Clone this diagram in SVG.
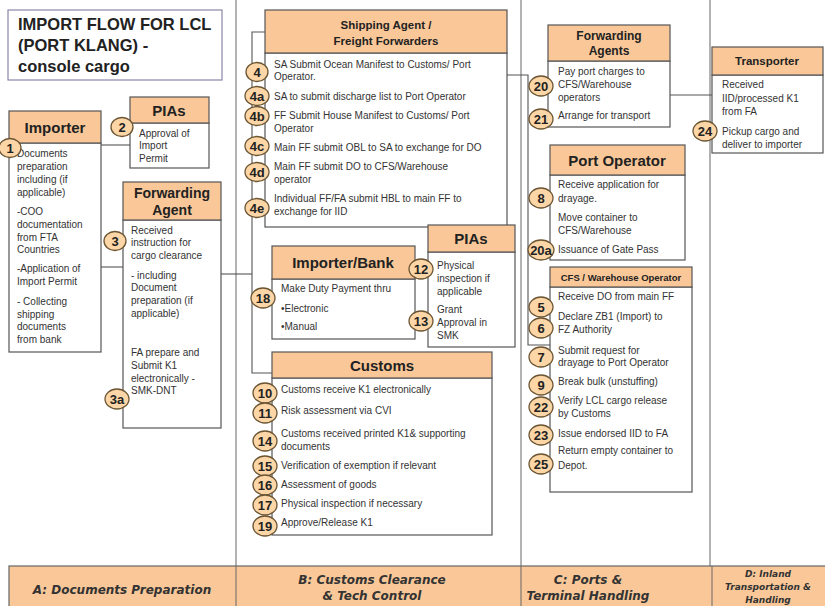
<svg xmlns="http://www.w3.org/2000/svg" width="825" height="606" viewBox="0 0 825 606">
<style>
.box{fill:#fff;stroke:#555;stroke-width:1.2}
.hdr{fill:#FAC898;stroke:#555;stroke-width:1.2}
.ht{font-family:"Liberation Sans",Arial,sans-serif;font-weight:bold;fill:#222;text-anchor:middle}
.t{font-family:"Liberation Sans",Arial,sans-serif;font-size:10px;fill:#333}
.bd{fill:#FCD6A6;stroke:#6b5533;stroke-width:1.3}
.bt{font-family:"Liberation Sans",Arial,sans-serif;font-size:13px;font-weight:bold;fill:#222;text-anchor:middle}
.ln{stroke:#555;stroke-width:1.1;fill:none}
.dv{stroke:#666;stroke-width:1;fill:none}
.ft{font-family:"DejaVu Sans",Verdana,sans-serif;font-weight:bold;font-style:italic;fill:#333;text-anchor:middle}
</style>
<rect width="825" height="606" fill="#fff"/>

<g id="dividers">
<line class="dv" x1="236" y1="0" x2="236" y2="566"/>
<line class="dv" x1="521" y1="0" x2="521" y2="566"/>
<line class="dv" x1="710" y1="0" x2="710" y2="566"/>
</g>

<g id="connectors">
<line class="ln" x1="101" y1="145" x2="130" y2="145"/>
<line class="ln" x1="101" y1="267" x2="123" y2="267"/>
<line class="ln" x1="221" y1="274" x2="252" y2="274"/>
<polyline class="ln" points="265,32 252,32 252,373 272,373"/>
<polyline class="ln" points="507,75 528,75 528,345 550,345"/>
<line class="ln" x1="670" y1="95" x2="712" y2="95"/>
</g>

<g id="title">
<rect x="8" y="10" width="214" height="70" fill="#fff" stroke="#8a86a8" stroke-width="1.2"/>
<text font-family="Liberation Sans,Arial,sans-serif" font-size="16.5" font-weight="bold" fill="#222">
<tspan x="18" y="30">IMPORT FLOW FOR LCL</tspan>
<tspan x="18" y="51">(PORT KLANG)  -</tspan>
<tspan x="18" y="72">console cargo</tspan>
</text>
</g>

<g id="importer">
<rect class="box" x="9" y="143" width="92" height="209"/>
<rect class="hdr" x="9" y="111" width="92" height="32"/>
<text class="ht" x="55" y="133" font-size="15">Importer</text>
<text class="t">
<tspan x="17" y="157">Documents</tspan>
<tspan x="17" y="170">preparation</tspan>
<tspan x="17" y="183">including (if</tspan>
<tspan x="17" y="196">applicable)</tspan>
<tspan x="17" y="215">-COO</tspan>
<tspan x="17" y="228">documentation</tspan>
<tspan x="17" y="241">from FTA</tspan>
<tspan x="17" y="253">Countries</tspan>
<tspan x="17" y="272">-Application of</tspan>
<tspan x="17" y="285">Import Permit</tspan>
<tspan x="17" y="305">- Collecting</tspan>
<tspan x="17" y="318">shipping</tspan>
<tspan x="17" y="330">documents</tspan>
<tspan x="17" y="343">from bank</tspan>
</text>
<ellipse class="bd" cx="10" cy="148" rx="11" ry="9.5"/>
<text class="bt" x="10" y="153">1</text>
</g>

<g id="pias-left">
<rect class="box" x="130" y="123" width="79" height="45"/>
<rect class="hdr" x="130" y="97" width="79" height="26"/>
<text class="ht" x="169" y="116" font-size="15">PIAs</text>
<text class="t">
<tspan x="139" y="137">Approval of</tspan>
<tspan x="139" y="149">Import</tspan>
<tspan x="139" y="162">Permit</tspan>
</text>
<ellipse class="bd" cx="122" cy="127" rx="11" ry="9.5"/>
<text class="bt" x="122" y="132">2</text>
</g>

<g id="forwarding-agent">
<rect class="box" x="123" y="220" width="98" height="208"/>
<rect class="hdr" x="123" y="182" width="98" height="38"/>
<text class="ht" font-size="14"><tspan x="172" y="198">Forwarding</tspan><tspan x="172" y="215">Agent</tspan></text>
<text class="t">
<tspan x="131" y="234">Received</tspan>
<tspan x="131" y="246">instruction for</tspan>
<tspan x="131" y="259">cargo clearance</tspan>
<tspan x="131" y="279">- including</tspan>
<tspan x="131" y="291">Document</tspan>
<tspan x="131" y="304">preparation (if</tspan>
<tspan x="131" y="317">applicable)</tspan>
<tspan x="131" y="356">FA prepare and</tspan>
<tspan x="131" y="369">Submit K1</tspan>
<tspan x="131" y="382">electronically -</tspan>
<tspan x="131" y="394">SMK-DNT</tspan>
</text>
<ellipse class="bd" cx="115" cy="241" rx="11" ry="9.5"/>
<text class="bt" x="115" y="246">3</text>
<ellipse class="bd" cx="117" cy="399" rx="12" ry="10"/>
<text class="bt" x="117" y="404">3a</text>
</g>

<g id="shipping-agent">
<rect class="box" x="265" y="53" width="242" height="174"/>
<rect class="hdr" x="265" y="10" width="242" height="43"/>
<text class="ht" font-size="11.5"><tspan x="386" y="29">Shipping Agent /</tspan><tspan x="386" y="45">Freight Forwarders</tspan></text>
<text class="t">
<tspan x="274" y="68">SA Submit Ocean Manifest to Customs/ Port</tspan>
<tspan x="274" y="80">Operator.</tspan>
<tspan x="274" y="100">SA to submit discharge list to Port Operator</tspan>
<tspan x="274" y="119">FF Submit House Manifest  to Customs/ Port</tspan>
<tspan x="274" y="132">Operator</tspan>
<tspan x="274" y="151">Main FF submit OBL to SA to exchange for DO</tspan>
<tspan x="274" y="170">Main FF submit DO to CFS/Warehouse</tspan>
<tspan x="274" y="183">operator</tspan>
<tspan x="274" y="202">Individual FF/FA submit HBL to main FF to</tspan>
<tspan x="274" y="215">exchange for IID</tspan>
</text>
<ellipse class="bd" cx="257" cy="72" rx="11" ry="9.5"/>
<text class="bt" x="257" y="77">4</text>
<ellipse class="bd" cx="257" cy="96" rx="12" ry="9.5"/>
<text class="bt" x="257" y="101">4a</text>
<ellipse class="bd" cx="257" cy="116" rx="12" ry="9.5"/>
<text class="bt" x="257" y="121">4b</text>
<ellipse class="bd" cx="257" cy="146" rx="12" ry="9.5"/>
<text class="bt" x="257" y="151">4c</text>
<ellipse class="bd" cx="257" cy="172" rx="12" ry="9.5"/>
<text class="bt" x="257" y="177">4d</text>
<ellipse class="bd" cx="257" cy="208" rx="12" ry="9.5"/>
<text class="bt" x="257" y="213">4e</text>
</g>

<g id="importer-bank">
<rect class="box" x="272" y="279" width="143" height="60"/>
<rect class="hdr" x="272" y="246" width="143" height="33"/>
<text class="ht" x="343" y="268" font-size="15">Importer/Bank</text>
<text class="t">
<tspan x="281" y="292">Make Duty Payment thru</tspan>
<tspan x="281" y="312">•Electronic</tspan>
<tspan x="281" y="330">•Manual</tspan>
</text>
<ellipse class="bd" cx="263" cy="298" rx="12" ry="10"/>
<text class="bt" x="263" y="303">18</text>
</g>

<g id="pias-mid">
<rect class="box" x="428" y="252" width="87" height="95"/>
<rect class="hdr" x="428" y="225" width="87" height="27"/>
<text class="ht" x="471" y="244" font-size="15">PIAs</text>
<text class="t">
<tspan x="437" y="269">Physical</tspan>
<tspan x="437" y="282">inspection if</tspan>
<tspan x="437" y="295">applicable</tspan>
<tspan x="437" y="313">Grant</tspan>
<tspan x="437" y="326">Approval in</tspan>
<tspan x="437" y="339">SMK</tspan>
</text>
<ellipse class="bd" cx="421" cy="269" rx="12" ry="10"/>
<text class="bt" x="421" y="274">12</text>
<ellipse class="bd" cx="421" cy="321" rx="12" ry="10"/>
<text class="bt" x="421" y="326">13</text>
</g>

<g id="customs">
<rect class="box" x="272" y="378" width="220" height="157"/>
<rect class="hdr" x="272" y="352" width="220" height="26"/>
<text class="ht" x="382" y="371" font-size="15">Customs</text>
<text class="t">
<tspan x="281" y="393">Customs receive K1 electronically</tspan>
<tspan x="281" y="414">Risk assessment via CVI</tspan>
<tspan x="281" y="437">Customs received printed K1&amp; supporting</tspan>
<tspan x="281" y="450">documents</tspan>
<tspan x="281" y="469">Verification of exemption if relevant</tspan>
<tspan x="281" y="488">Assessment of goods</tspan>
<tspan x="281" y="507">Physical inspection if necessary</tspan>
<tspan x="281" y="526">Approve/Release K1</tspan>
</text>
<ellipse class="bd" cx="265" cy="393" rx="12" ry="10"/>
<text class="bt" x="265" y="398">10</text>
<ellipse class="bd" cx="265" cy="413" rx="12" ry="10"/>
<text class="bt" x="265" y="418">11</text>
<ellipse class="bd" cx="265" cy="441" rx="12" ry="10"/>
<text class="bt" x="265" y="446">14</text>
<ellipse class="bd" cx="265" cy="466" rx="12" ry="10"/>
<text class="bt" x="265" y="471">15</text>
<ellipse class="bd" cx="265" cy="485" rx="12" ry="10"/>
<text class="bt" x="265" y="490">16</text>
<ellipse class="bd" cx="265" cy="505" rx="12" ry="10"/>
<text class="bt" x="265" y="510">17</text>
<ellipse class="bd" cx="265" cy="526" rx="12" ry="10"/>
<text class="bt" x="265" y="531">19</text>
</g>

<g id="forwarding-agents">
<rect class="box" x="548" y="61" width="122" height="66"/>
<rect class="hdr" x="548" y="25" width="122" height="36"/>
<text class="ht" font-size="12"><tspan x="609" y="40">Forwarding</tspan><tspan x="609" y="55">Agents</tspan></text>
<text class="t">
<tspan x="558" y="75">Pay port charges  to</tspan>
<tspan x="558" y="88">CFS/Warehouse</tspan>
<tspan x="558" y="101">operators</tspan>
<tspan x="558" y="119">Arrange for transport</tspan>
</text>
<ellipse class="bd" cx="541" cy="86" rx="12" ry="10"/>
<text class="bt" x="541" y="91">20</text>
<ellipse class="bd" cx="541" cy="119" rx="12" ry="10"/>
<text class="bt" x="541" y="124">21</text>
</g>

<g id="port-operator">
<rect class="box" x="550" y="175" width="135" height="85"/>
<rect class="hdr" x="550" y="145" width="135" height="30"/>
<text class="ht" x="617" y="166" font-size="15">Port Operator</text>
<text class="t">
<tspan x="558" y="188">Receive application for</tspan>
<tspan x="558" y="202">drayage.</tspan>
<tspan x="558" y="221">Move container to</tspan>
<tspan x="558" y="234">CFS/Warehouse</tspan>
<tspan x="558" y="253">Issuance of Gate Pass</tspan>
</text>
<ellipse class="bd" cx="541" cy="198" rx="12" ry="10"/>
<text class="bt" x="541" y="203">8</text>
<ellipse class="bd" cx="541" cy="250" rx="13" ry="10"/>
<text class="bt" x="541" y="255">20a</text>
</g>

<g id="cfs-warehouse">
<rect class="box" x="550" y="287" width="142" height="205"/>
<rect class="hdr" x="550" y="267" width="142" height="20"/>
<text class="ht" x="621" y="281" font-size="9.5">CFS / Warehouse Operator</text>
<text class="t">
<tspan x="558" y="300">Receive DO from main FF</tspan>
<tspan x="558" y="320">Declare ZB1 (Import) to</tspan>
<tspan x="558" y="333">FZ Authority</tspan>
<tspan x="558" y="354">Submit request for</tspan>
<tspan x="558" y="366">drayage to Port Operator</tspan>
<tspan x="558" y="385">Break bulk (unstuffing)</tspan>
<tspan x="558" y="404">Verify LCL cargo release</tspan>
<tspan x="558" y="417">by Customs</tspan>
<tspan x="558" y="437">Issue endorsed IID to FA</tspan>
<tspan x="558" y="454">Return empty container to</tspan>
<tspan x="558" y="469">Depot.</tspan>
</text>
<ellipse class="bd" cx="541" cy="307" rx="12" ry="10"/>
<text class="bt" x="541" y="312">5</text>
<ellipse class="bd" cx="541" cy="328" rx="12" ry="10"/>
<text class="bt" x="541" y="333">6</text>
<ellipse class="bd" cx="541" cy="357" rx="12" ry="10"/>
<text class="bt" x="541" y="362">7</text>
<ellipse class="bd" cx="541" cy="385" rx="12" ry="10"/>
<text class="bt" x="541" y="390">9</text>
<ellipse class="bd" cx="541" cy="407" rx="12" ry="10"/>
<text class="bt" x="541" y="412">22</text>
<ellipse class="bd" cx="541" cy="435" rx="12" ry="10"/>
<text class="bt" x="541" y="440">23</text>
<ellipse class="bd" cx="541" cy="464" rx="12" ry="10"/>
<text class="bt" x="541" y="469">25</text>
</g>

<g id="transporter">
<rect class="box" x="712" y="75" width="111" height="78"/>
<rect class="hdr" x="712" y="47" width="111" height="28"/>
<text class="ht" x="767" y="65" font-size="11.5">Transporter</text>
<text class="t">
<tspan x="722" y="88">Received</tspan>
<tspan x="722" y="102">IID/processed K1</tspan>
<tspan x="722" y="115">from FA</tspan>
<tspan x="722" y="135">Pickup cargo and</tspan>
<tspan x="722" y="148">deliver to importer</tspan>
</text>
<ellipse class="bd" cx="705" cy="131" rx="12" ry="10"/>
<text class="bt" x="705" y="136">24</text>
</g>

<g id="phase-bar">
<rect x="9" y="566" width="818" height="42" fill="#FAC898" stroke="#666" stroke-width="1.2"/>
<line class="dv" x1="236" y1="566" x2="236" y2="606"/>
<line class="dv" x1="521" y1="566" x2="521" y2="606"/>
<line class="dv" x1="712" y1="566" x2="712" y2="606"/>
<text class="ft" x="122" y="594" font-size="12">A: Documents Preparation</text>
<text class="ft" font-size="12"><tspan x="372" y="584">B: Customs  Clearance</tspan><tspan x="372" y="600">&amp; Tech Control</tspan></text>
<text class="ft" font-size="12"><tspan x="588" y="584">C: Ports &amp;</tspan><tspan x="588" y="600">Terminal  Handling</tspan></text>
<text class="ft" font-size="9"><tspan x="768" y="577">D: Inland</tspan><tspan x="768" y="590">Transportation &amp;</tspan><tspan x="768" y="603">Handling</tspan></text>
</g>
</svg>
